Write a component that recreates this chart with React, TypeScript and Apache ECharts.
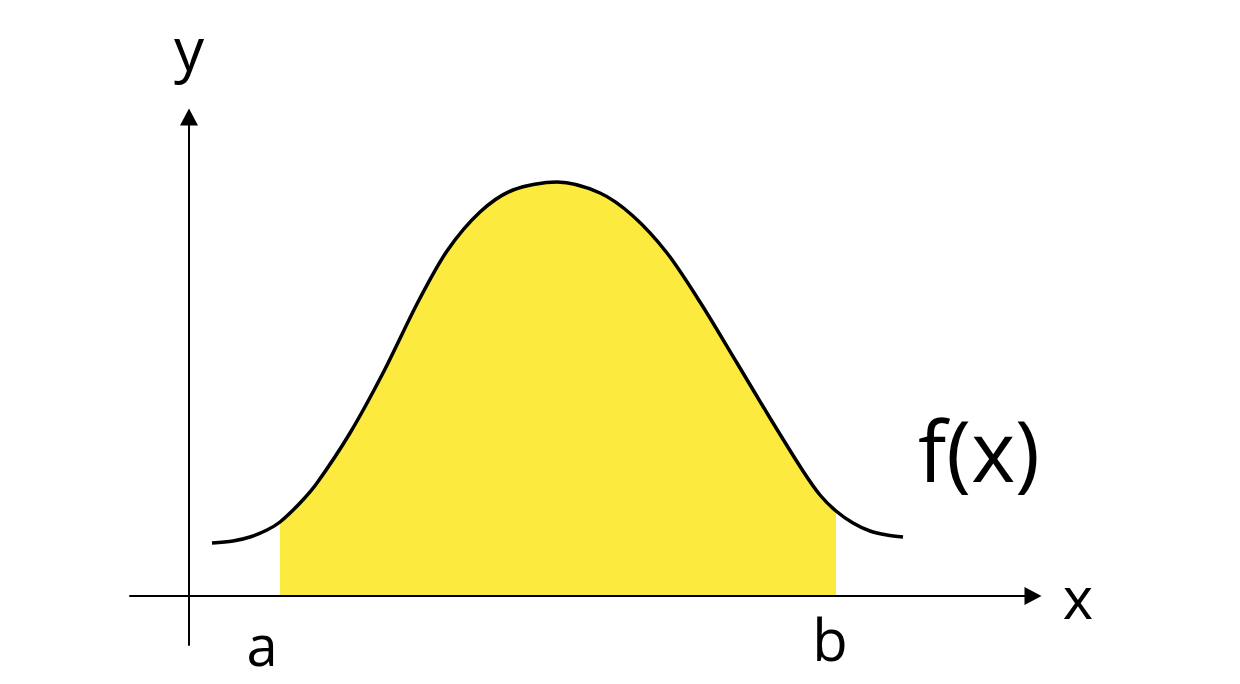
import { useEffect, useRef } from 'react';
import * as echarts from 'echarts';

// Curve sample points (x, f(x)) in chart units
const curveX = [23, 44, 61, 78, 91, 111, 128, 161, 194, 229, 258, 291, 324, 368, 411, 444, 478, 511, 548, 581, 614, 631, 647, 664, 681, 698, 714];
const curveY = [53, 55, 59, 66, 74, 93, 113, 163, 223, 294, 345, 384, 406, 414, 403, 380, 343, 294, 233, 178, 125, 101, 85, 73, 65, 61, 59];
// Integration bounds
const boundA = 91;
const boundB = 647;
const boundLabels = ['a', 'b'];
const funcLabel = 'f(x)';
const axisNames = ['x', 'y'];

const FONT = "'Open Sans', 'DejaVu Sans', sans-serif";
const YELLOW = '#FCEA3E';
const SMOOTH = 0.3;

export default function App() {
  const ref = useRef<HTMLDivElement>(null);
  useEffect(() => {
    if (!ref.current) return;
    const chart = echarts.init(ref.current, null, { renderer: 'svg' });
    const curve = curveX.map((x, i) => [x, curveY[i]]);
    const fill = curve.filter(([x]) => x >= boundA && x <= boundB);
    const axisCommon = {
      type: 'value' as const,
      axisTick: { show: false },
      axisLabel: { show: false },
      splitLine: { show: false },
      z: 5,
    };
    chart.setOption({
      animation: false,
      backgroundColor: '#ffffff',
      grid: { left: 130, top: 117, width: 903, height: 528 },
      xAxis: {
        ...axisCommon,
        min: -59,
        max: 844,
        axisLine: {
          onZero: true,
          symbol: ['none', 'triangle'],
          symbolSize: [18, 17],
          lineStyle: { color: '#000', width: 2 },
        },
        name: axisNames[0],
        nameLocation: 'end',
        nameGap: 45,
        nameTextStyle: { fontFamily: FONT, fontSize: 58, color: '#000', align: 'center', verticalAlign: 'middle' },
      },
      yAxis: {
        ...axisCommon,
        min: -49,
        max: 479,
        axisLine: {
          onZero: true,
          symbol: ['none', 'triangle'],
          symbolSize: [18, 17],
          lineStyle: { color: '#000', width: 2 },
        },
        name: axisNames[1],
        nameLocation: 'end',
        nameGap: 69,
        nameTextStyle: { fontFamily: FONT, fontSize: 60, color: '#000', align: 'center', verticalAlign: 'middle' },
      },
      series: [
        {
          type: 'line',
          data: fill,
          smooth: SMOOTH,
          symbol: 'none',
          lineStyle: { width: 0 },
          areaStyle: { color: YELLOW, opacity: 1 },
          z: 1,
          silent: true,
        },
        {
          type: 'line',
          data: curve,
          smooth: SMOOTH,
          symbol: 'none',
          lineStyle: { color: '#000', width: 3.5 },
          z: 3,
          silent: true,
        },
      ],
      graphic: [
        {
          type: 'text',
          x: 262,
          y: 644,
          style: { text: boundLabels[0], font: `56px ${FONT}`, fill: '#000', textAlign: 'center', textVerticalAlign: 'middle' },
        },
        {
          type: 'text',
          x: 830,
          y: 638,
          style: { text: boundLabels[1], font: `58px ${FONT}`, fill: '#000', textAlign: 'center', textVerticalAlign: 'middle' },
        },
        {
          type: 'text',
          x: 979,
          y: 449,
          style: { text: funcLabel, font: `84px ${FONT}`, fill: '#000', textAlign: 'center', textVerticalAlign: 'middle' },
        },
      ],
    });
    return () => chart.dispose();
  }, []);
  return <div ref={ref} style={{ position: 'absolute', left: 0, top: 0, width: 1240, height: 684 }} />;
}
